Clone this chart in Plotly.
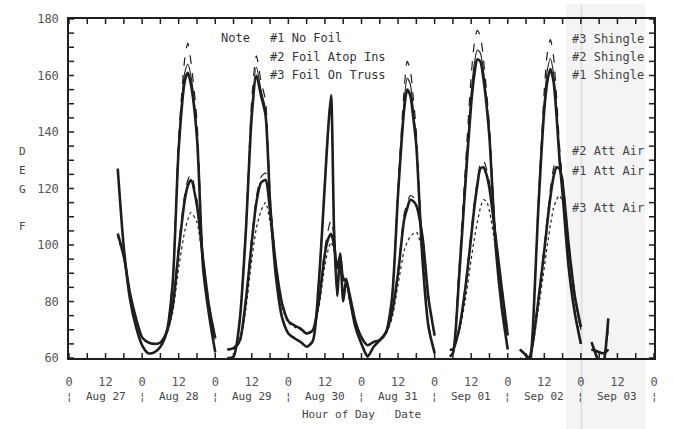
import plotly.graph_objects as go

# Hour offsets from Aug 27 00:00; None marks a break in the logger record
HOURS = [
    16, 18, 20, 22, 24, 26, 28, 30, 32, 34, 36, 38, 39, 40, 42, 44, 46, 48,
    None,
    52, 54, 56, 58, 60, 61.5, 63, 64.5, 66, 68, 70, 72, 74, 76, 78, 80, 82, 84, 85, 86,
    87, 88, 89, 90, 91, 92, 94, 96, 98, 100, 102, 104, 106, 108, 110, 111, 112, 113, 114,
    116, 118, 120,
    None,
    125, 126, 128, 130, 132, 133, 134, 135, 136, 137, 138, 140, 142, 144,
    None,
    148, 150, 151, 152, 154, 156, 157, 158, 159, 160, 161, 162, 164, 166, 168,
    None,
    171.5, 173, 175, 176, 177,
]

# Shingle temperatures, deg F
SHINGLE_1 = [
    127, 99, 81, 71, 64.5, 61.7, 62, 64, 69, 86, 134, 158, 161, 157, 138, 92, 75, 62,
    None,
    60, 60.5, 73, 104, 146, 160, 153, 146, 115, 88, 74, 68.7, 67, 65.7, 64, 66, 87, 122, 140, 153,
    105, 82, 97, 80, 88, 82, 71, 65, 60.5, 64, 66.3, 69, 81, 118, 148, 155, 153, 145, 135,
    95, 71, 61.7,
    None,
    60.5, 61.7, 88, 120, 150, 160, 165.7, 165, 159, 150, 138, 100, 78, 63,
    None,
    60, 57, 56, 66, 112, 148, 158, 162.3, 158, 146, 130, 118, 92, 76, 65,
    None,
    65.6, 61, 56, 62, 74,
]
SHINGLE_2 = [
    127, 99, 81, 71, 64.5, 61.7, 62, 64, 69, 87, 136, 161, 164, 160, 140, 93, 75, 62,
    None,
    60, 60.5, 73, 105, 149, 163, 155, 148, 116, 88, 74.5, 68.7, 67, 65.7, 64, 66, 87, 123, 141, 152,
    106, 82, 96, 80, 87, 81, 71, 65, 61, 64, 66.3, 69, 81, 119, 151, 159, 157, 148, 137,
    96, 71, 62,
    None,
    60.5, 62, 90, 123, 154, 164, 169, 168, 162, 152, 140, 101, 79, 63.5,
    None,
    60, 57, 56, 66, 113, 151, 162, 166, 161, 149, 132, 119, 92, 76, 65,
    None,
    65.6, 61, 56.5, 62, 72,
]
SHINGLE_3 = [
    127, 99, 81, 71, 64.5, 61.7, 62, 64, 69, 88, 138, 166, 171.5, 165, 144, 95, 76, 62,
    None,
    60, 60.5, 74, 106, 152, 167, 158, 151, 118, 89, 75, 68.7, 67, 65.7, 64, 66, 88, 124, 142, 152,
    107, 83, 96, 81, 87, 81, 71, 65, 61, 64, 66.3, 69, 82, 121, 155, 165, 162, 152, 140,
    98, 72, 62,
    None,
    60.5, 62, 92, 126, 160, 171, 176, 174, 166, 155, 142, 103, 81, 64,
    None,
    60, 57, 56, 67, 115, 155, 168, 172.7, 167, 153, 135, 121, 93, 77, 65,
    None,
    65.6, 61.5, 57, 62, 70,
]

# Attic air temperatures, deg F
ATTIC_1 = [
    104, 96, 83, 74, 67.3, 65.5, 65, 65.5, 69, 78, 98, 116, 121, 123, 114, 95, 78, 67,
    None,
    63, 63.5, 66, 80, 101, 115, 122, 123, 112, 92, 79, 73, 71.5, 70.4, 68.7, 69.8, 80, 97, 102, 104,
    100, 92, 96, 88, 87, 83, 73, 67.3, 64.5, 65.7, 66.3, 69, 76, 90, 109, 113, 116, 115.5, 114,
    103, 81, 68,
    None,
    63, 63, 70, 84, 103, 113, 121, 127, 127.5, 125, 120, 103, 85, 68,
    None,
    63, 61, 60, 64, 80, 98, 108, 117, 124, 127.5, 127, 122, 100, 82, 71,
    None,
    63, 62.5, 61.7, 62, 63,
]
ATTIC_2 = [
    104, 96, 83, 74, 67.3, 65.5, 65, 65.5, 69, 79, 100, 118, 123, 125, 116, 96, 79, 67.5,
    None,
    63, 63.5, 66, 81, 103, 117, 124, 125.5, 114, 93, 79.5, 73, 71.5, 70.4, 68.7, 69.8, 81, 99, 105, 108.8,
    103, 93, 97, 89, 87, 83, 73, 67.3, 64.5, 65.7, 66.3, 69, 76, 91, 111, 115, 117.5, 117, 115,
    104, 82, 68,
    None,
    63, 63, 70, 85, 105, 115, 123, 128.5, 130, 127, 122, 104, 86, 69,
    None,
    63, 61, 60, 64, 81, 100, 110, 120, 127, 130.5, 130, 124, 101, 83, 71,
    None,
    63, 62.5, 61.7, 62, 63,
]
ATTIC_3 = [
    103, 95, 83, 74, 67, 65.3, 65, 65.3, 68.5, 76, 92, 105, 109, 111.5, 108, 93, 77, 66.5,
    None,
    63, 63, 65.5, 77, 95, 106, 112, 115, 108, 91, 78, 72.5, 71, 70, 68.5, 69.5, 78, 93, 98, 101,
    98, 91, 94, 87, 86, 82, 72.5, 67, 64.5, 65.5, 66, 68.5, 74, 86, 98, 101, 103, 104, 104.6,
    98, 80, 67,
    None,
    63, 63, 69, 80, 95, 102, 108, 113, 116, 115.5, 112, 99, 84, 68,
    None,
    63, 61, 60, 63, 77, 92, 100, 107, 113, 116, 117.5, 115, 98, 81, 70,
    None,
    63, 62.5, 61.7, 62, 63,
]

DATES = ["Aug 27", "Aug 28", "Aug 29", "Aug 30", "Aug 31", "Sep 01", "Sep 02", "Sep 03"]
HOUR_TICKS = list(range(0, 193, 12))
HOUR_LABELS = ["0" if h % 24 == 0 else "12" for h in HOUR_TICKS]
HOUR_MINOR = list(range(0, 193, 6))
TEMP_TICKS = [60, 80, 100, 120, 140, 160, 180]
TEMP_MINOR = list(range(60, 181, 5))

NOTE_LINES = ["#1 No Foil", "#2 Foil Atop Ins", "#3 Foil On Truss"]
END_LABELS = [
    ("#3 Shingle", 173), ("#2 Shingle", 166.7), ("#1 Shingle", 160.1),
    ("#2 Att Air", 133.2), ("#1 Att Air", 126.3), ("#3 Att Air", 113),
]

INK = "#1e1e1e"
MONO = "DejaVu Sans Mono"
TICK_PX = 5

series = [
    (SHINGLE_3, dict(width=1.2, dash="dash")),
    (SHINGLE_2, dict(width=1.1, dash="solid")),
    (ATTIC_3, dict(width=1.2, dash="dot")),
    (ATTIC_2, dict(width=1.2, dash="dash")),
    (ATTIC_1, dict(width=2.6, dash="solid")),
    (SHINGLE_1, dict(width=2.6, dash="solid")),
]

fig = go.Figure()
for values, style in series:
    fig.add_trace(go.Scatter(
        x=HOURS, y=values, mode="lines",
        line=dict(color=INK, shape="spline", smoothing=0.7, **style),
        connectgaps=False, showlegend=False, hoverinfo="skip",
    ))

annotations = []
# Note block at the top of the plot
annotations.append(dict(x=0.256, y=0.944, xref="paper", yref="paper", text="Note",
                        showarrow=False, xanchor="left", yanchor="middle",
                        font=dict(family=MONO, size=12, color="#333")))
for i, line in enumerate(NOTE_LINES):
    annotations.append(dict(x=0.340, y=0.944 - i * 0.0553, xref="paper", yref="paper",
                            text=line, showarrow=False, xanchor="left", yanchor="middle",
                            font=dict(family=MONO, size=12, color="#333")))
# Series labels at the right end
for text, temp in END_LABELS:
    annotations.append(dict(x=164.3, y=temp, xref="x", yref="y", text=text,
                            showarrow=False, xanchor="left", yanchor="middle",
                            font=dict(family=MONO, size=12, color="#444")))
# Vertical axis title, one letter per line
for letter, yp in [("D", 148), ("E", 168), ("G", 187), ("F", 225)]:
    annotations.append(dict(x=-0.080, y=(358 - yp) / 344, xref="paper", yref="paper",
                            text=letter, showarrow=False, xanchor="center", yanchor="middle",
                            font=dict(family=MONO, size=11, color="#444")))
# Date row under the hour labels
for d, name in enumerate(DATES):
    annotations.append(dict(x=12 + 24 * d, y=-0.113, xref="x", yref="paper", text=name,
                            showarrow=False, xanchor="center", yanchor="middle",
                            font=dict(family=MONO, size=11, color="#444")))
for d in range(len(DATES) + 1):
    annotations.append(dict(x=24 * d, y=-0.113, xref="x", yref="paper", text="¦",
                            showarrow=False, xanchor="center", yanchor="middle",
                            font=dict(family=MONO, size=11, color="#444")))
annotations.append(dict(x=96, y=-0.166, xref="x", yref="paper", text="Hour of Day   Date",
                        showarrow=False, xanchor="center", yanchor="middle",
                        font=dict(family=MONO, size=11, color="#444")))

# Inward tick marks on all four sides of the frame
tick_line = dict(color=INK, width=1.5)
shapes = []
for h in HOUR_MINOR:
    for edge, sign in [(0, 1), (1, -1)]:
        shapes.append(dict(type="line", xref="x", yref="paper", ysizemode="pixel",
                           yanchor=edge, x0=h, x1=h, y0=0, y1=sign * TICK_PX,
                           line=tick_line, layer="above"))
for t in TEMP_MINOR:
    for edge, sign in [(0, 1), (1, -1)]:
        shapes.append(dict(type="line", xref="paper", yref="y", xsizemode="pixel",
                           xanchor=edge, x0=0, x1=sign * TICK_PX, y0=t, y1=t,
                           line=tick_line, layer="above"))
# faded strip of the scanned sheet
shapes.append(dict(type="rect", xref="paper", yref="paper", x0=0.85, x1=0.985,
                   y0=-0.21, y1=1.045, fillcolor="rgba(0,0,0,0.045)",
                   line=dict(width=0), layer="above"))
shapes.append(dict(type="line", xref="paper", yref="paper", x0=0.876, x1=0.876,
                   y0=-0.21, y1=1.045, line=dict(color="rgba(0,0,0,0.08)", width=2),
                   layer="above"))

tick_font = dict(family=MONO, size=12, color="#555")
frame = dict(showgrid=False, zeroline=False, showline=True, linecolor=INK, linewidth=1.5,
             mirror=True, ticks="")

fig.update_layout(
    width=673, height=429,
    margin=dict(l=69, r=19, t=14, b=71),
    paper_bgcolor="white", plot_bgcolor="white",
    xaxis=dict(range=[0, 192], tickmode="array", tickvals=HOUR_TICKS, ticktext=HOUR_LABELS,
               tickfont=tick_font, ticklabelstandoff=12, **frame),
    yaxis=dict(range=[60, 180], tickmode="array", tickvals=TEMP_TICKS,
               tickfont=tick_font, ticklabelstandoff=6, **frame),
    annotations=annotations,
    shapes=shapes,
)

fig.write_html("out.html")
